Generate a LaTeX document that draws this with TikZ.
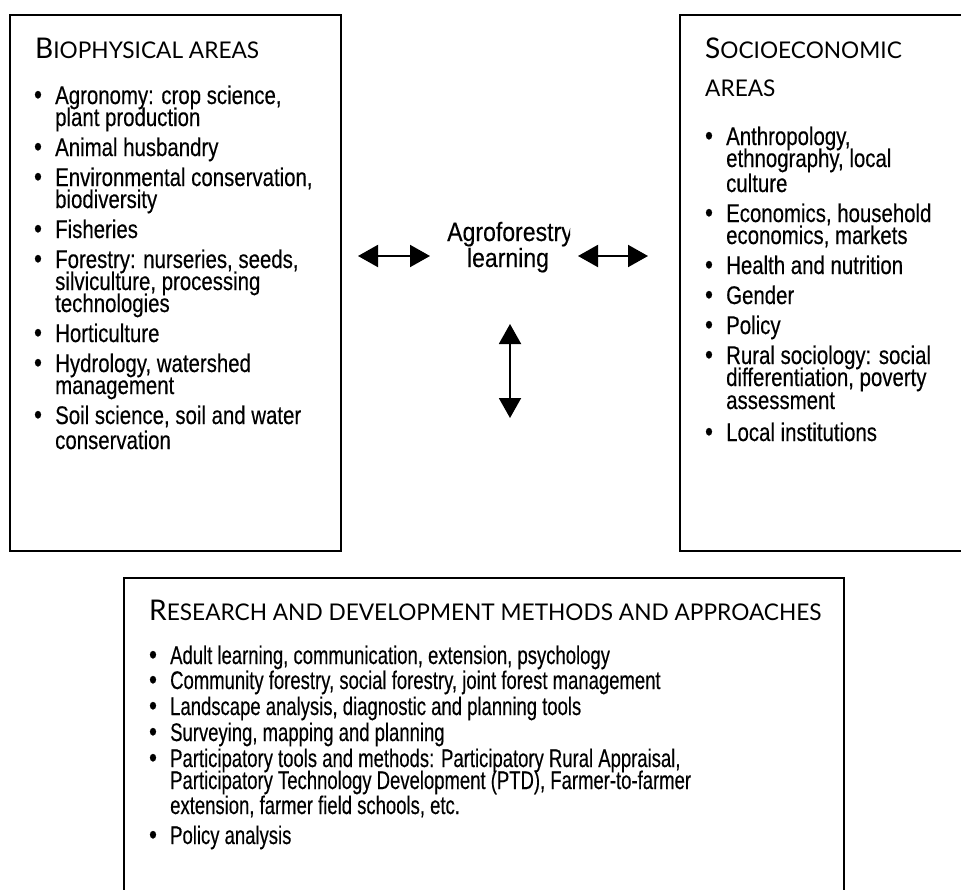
\documentclass[tikz,border=0pt]{standalone}
\usepackage{fontspec}
\setmainfont{Liberation Sans}[FakeStretch=0.8, FakeBold=0.3]
\newfontfamily\narrowfont{Liberation Sans}[FakeStretch=0.725, FakeBold=0.3]
\newfontfamily\centrefont{Liberation Sans}[FakeStretch=0.87, FakeBold=0.3]
\newfontfamily\headfont{Lato}[FakeStretch=0.985]
\usetikzlibrary{arrows.meta}
\newcommand{\hdcap}[2]{{\headfont\fontsize{28.5}{30}\selectfont #1\fontsize{23}{25}\selectfont #2}}
\tikzset{
  boxframe/.style={draw=black, line width=2pt, inner sep=0pt, anchor=north west},
  txt/.style={inner sep=0pt, anchor=base west, font=\fontsize{25.5}{22}\selectfont},
  ntxt/.style={inner sep=0pt, anchor=base west, font=\narrowfont\fontsize{25.5}{22}\selectfont},
  ctxt/.style={inner sep=0pt, anchor=base, font=\centrefont\fontsize{26.5}{22}\selectfont},
  bul/.style={inner sep=0pt, anchor=base, font=\fontsize{28}{22}\selectfont},
  hd/.style={inner sep=0pt, anchor=base west},
  dblarrow/.style={line width=2pt, {Triangle[length=20pt,width=22pt]}-{Triangle[length=20pt,width=22pt]}}
}
\begin{document}
\begin{tikzpicture}[x=1pt,y=-1pt]
\useasboundingbox (0,0) rectangle (961,889);
\clip (0,0) rectangle (961,889);
\fill[white] (0,0) rectangle (961,889);
% boxes
\node (bio) [boxframe, minimum width=331pt, minimum height=536pt] at (9,14) {};
\node (soc) [boxframe, minimum width=320pt, minimum height=536pt] at (679,14) {};
\node (res) [boxframe, minimum width=720pt, minimum height=360pt] at (123,577) {};
% left box
\node (bh) [hd] at (35,58) {\hdcap{B}{IOPHYSICAL AREAS}};
\node (b1) [bul] at (38,104) {•};
\node (l1) [txt] at (55,104) {Agronomy: crop science,};
\node (l2) [txt] at (55,126) {plant production};
\node (b2) [bul] at (38,156) {•};
\node (l3) [txt] at (55,156) {Animal husbandry};
\node (b3) [bul] at (38,186) {•};
\node (l4) [txt] at (55,186) {Environmental conservation,};
\node (l5) [txt] at (55,208) {biodiversity};
\node (b4) [bul] at (38,238) {•};
\node (l6) [txt] at (55,238) {Fisheries};
\node (b5) [bul] at (38,268) {•};
\node (l7) [txt] at (55,268) {Forestry: nurseries, seeds,};
\node (l8) [txt] at (55,290) {silviculture, processing};
\node (l9) [txt] at (55,312) {technologies};
\node (b6) [bul] at (38,342) {•};
\node (l10) [txt] at (55,342) {Horticulture};
\node (b7) [bul] at (38,372) {•};
\node (l11) [txt] at (55,372) {Hydrology, watershed};
\node (l12) [txt] at (55,394) {management};
\node (b8) [bul] at (38,424) {•};
\node (l13) [txt] at (55,424) {Soil science, soil and water};
\node (l14) [txt] at (55,449) {conservation};
% right box
\node (sh1) [hd] at (705,58) {\hdcap{S}{OCIOECONOMIC}};
\node (sh2) [hd] at (705,96) {\hdcap{}{AREAS}};
\node (c1) [bul] at (709,145) {•};
\node (r1) [txt] at (726,145) {Anthropology,};
\node (r2) [txt] at (726,167) {ethnography, local};
\node (r3) [txt] at (726,192) {culture};
\node (c2) [bul] at (709,222) {•};
\node (r4) [txt] at (726,222) {Economics, household};
\node (r5) [txt] at (726,244) {economics, markets};
\node (c3) [bul] at (709,274) {•};
\node (r6) [txt] at (726,274) {Health and nutrition};
\node (c4) [bul] at (709,304) {•};
\node (r7) [txt] at (726,304) {Gender};
\node (c5) [bul] at (709,334) {•};
\node (r8) [txt] at (726,334) {Policy};
\node (c6) [bul] at (709,364) {•};
\node (r9) [txt] at (726,364) {Rural sociology: social};
\node (r10) [txt] at (726,386) {differentiation, poverty};
\node (r11) [txt] at (726,409) {assessment};
\node (c7) [bul] at (709,441) {•};
\node (r12) [txt] at (726,441) {Local institutions};
% bottom box
\node (rh) [hd] at (149,620) {\hdcap{R}{ESEARCH AND DEVELOPMENT METHODS AND APPROACHES}};
\node (d1) [bul] at (153,664) {•};
\node (m1) [ntxt] at (170,664) {Adult learning, communication, extension, psychology};
\node (d2) [bul] at (153,689) {•};
\node (m2) [ntxt] at (170,689) {Community forestry, social forestry, joint forest management};
\node (d3) [bul] at (153,715) {•};
\node (m3) [ntxt] at (170,715) {Landscape analysis, diagnostic and planning tools};
\node (d4) [bul] at (153,741) {•};
\node (m4) [ntxt] at (170,741) {Surveying, mapping and planning};
\node (d5) [bul] at (153,767) {•};
\node (m5) [ntxt] at (170,767) {Participatory tools and methods: Participatory Rural Appraisal,};
\node (m6) [ntxt] at (170,789) {Participatory Technology Development (PTD), Farmer-to-farmer};
\node (m7) [ntxt] at (170,814) {extension, farmer field schools, etc.};
\node (d6) [bul] at (153,844) {•};
\node (m8) [ntxt] at (170,844) {Policy analysis};
% centre
\begin{scope}
\clip (400,200) rectangle (570,250);
\node (ctr1) [ctxt] at (510,241) {Agroforestry};
\end{scope}
\node (ctr2) [ctxt] at (508,267) {learning};
% arrows
\coordinate (a1) at (358,256);
\coordinate (a2) at (430,256);
\coordinate (a3) at (578,256);
\coordinate (a4) at (648,256);
\coordinate (a5) at (510,324);
\coordinate (a6) at (510,418);
\draw[dblarrow] (a1) -- (a2);
\draw[dblarrow] (a3) -- (a4);
\draw[dblarrow] (a5) -- (a6);
\end{tikzpicture}
\end{document}
